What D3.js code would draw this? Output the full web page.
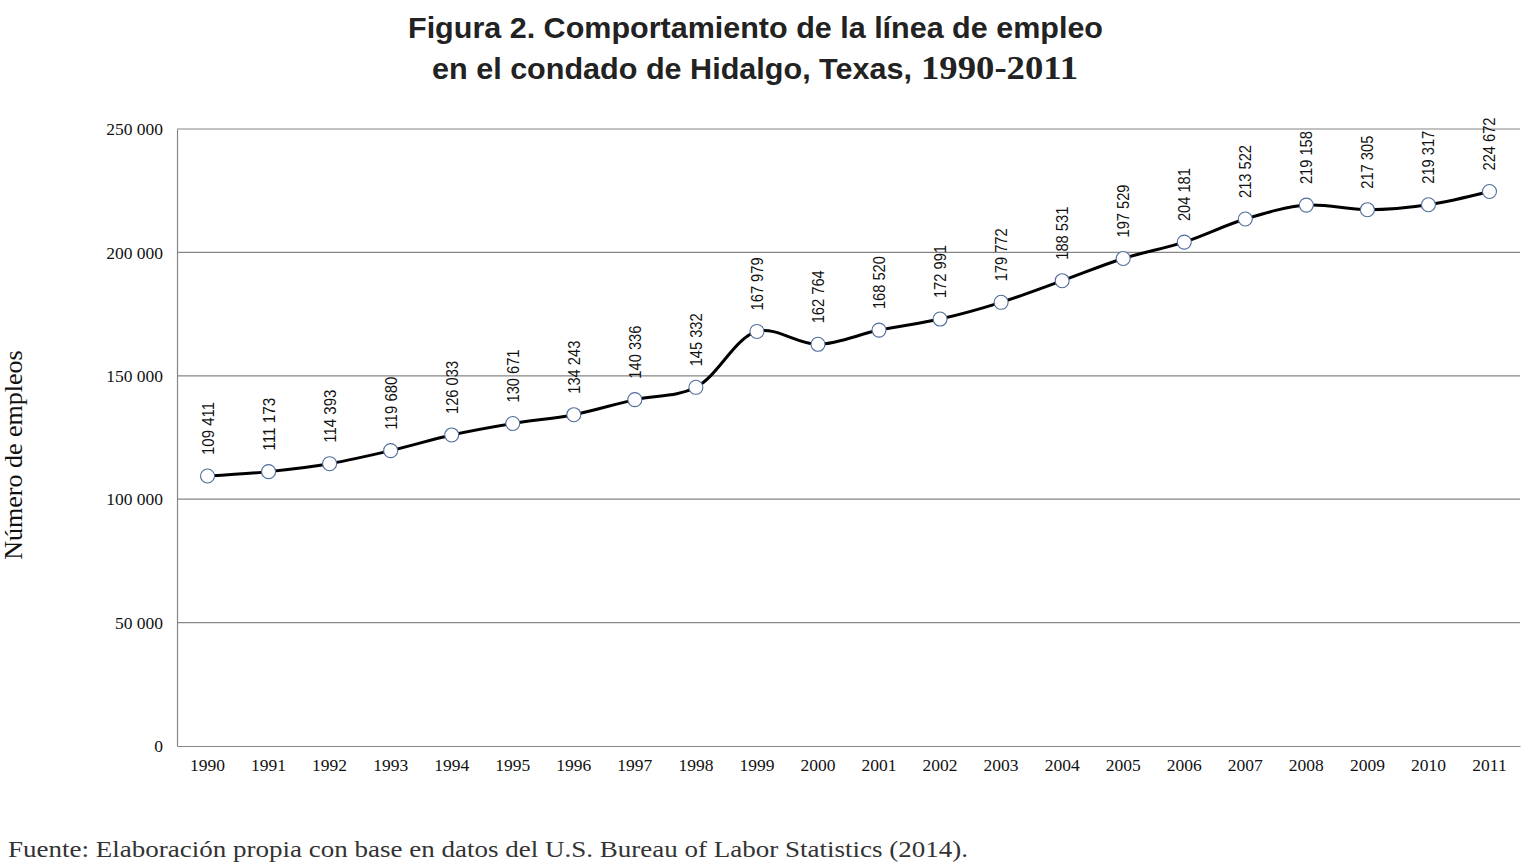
<!DOCTYPE html>
<html>
<head>
<meta charset="utf-8">
<script src="https://cdn.jsdelivr.net/npm/d3@7"></script>
<style>
  body { margin: 0; background: #fff; }
  svg { display: block; }
</style>
</head>
<body>
<svg id="chart" width="1525" height="867"></svg>
<script>
// datos
var years = ["1990", "1991", "1992", "1993", "1994", "1995", "1996", "1997", "1998", "1999", "2000",
  "2001", "2002", "2003", "2004", "2005", "2006", "2007", "2008", "2009", "2010", "2011"];
var empleos = [109411, 111173, 114393, 119680, 126033, 130671, 134243, 140336, 145332, 167979, 162764,
  168520, 172991, 179772, 188531, 197529, 204181, 213522, 219158, 217305, 219317, 224672];
var yTicks = [0, 50000, 100000, 150000, 200000, 250000];

var width = 1525, height = 867;
var margin = { left: 177, right: 5, top: 129, bottom: 121 };

var svg = d3.select("#chart");

var x = d3.scaleBand()
  .domain(years)
  .range([margin.left, width - margin.right]);

var y = d3.scaleLinear()
  .domain([0, 250000])
  .range([height - margin.bottom, margin.top]);

var fmt = function (v) {
  return d3.format(",")(v).replace(/,/g, " ");
};

// title
var title = svg.append("g")
  .attr("font-family", "Liberation Sans, Arial, sans-serif")
  .attr("font-weight", "bold")
  .attr("fill", "#222");
title.append("text")
  .attr("x", 408).attr("y", 38)
  .attr("font-size", 30)
  .attr("textLength", 695)
  .attr("lengthAdjust", "spacingAndGlyphs")
  .text("Figura 2. Comportamiento de la línea de empleo");
title.append("text")
  .attr("x", 432).attr("y", 79)
  .attr("font-size", 30)
  .attr("textLength", 480)
  .attr("lengthAdjust", "spacingAndGlyphs")
  .text("en el condado de Hidalgo, Texas,");
title.append("text")
  .attr("x", 921).attr("y", 79)
  .attr("font-family", "Liberation Serif, Times New Roman, serif")
  .attr("font-size", 33)
  .attr("textLength", 157)
  .attr("lengthAdjust", "spacingAndGlyphs")
  .text("1990-2011");

// gridlines
svg.append("g")
  .selectAll("line")
  .data(yTicks.slice(1))
  .enter()
  .append("line")
  .attr("x1", margin.left)
  .attr("x2", width - margin.right)
  .attr("y1", function (d) { return y(d); })
  .attr("y2", function (d) { return y(d); })
  .attr("stroke", "#868686")
  .attr("stroke-width", 1.2);

// y axis
var yAxis = svg.append("g")
  .attr("transform", "translate(" + margin.left + ",0)")
  .call(d3.axisLeft(y).tickValues(yTicks).tickFormat(fmt).tickSize(0).tickPadding(14));
yAxis.select(".domain").attr("stroke", "#868686").attr("stroke-width", 1.2);
yAxis.selectAll("text")
  .attr("font-family", "Liberation Serif, Times New Roman, serif")
  .attr("font-size", 17.5)
  .attr("fill", "#111");

// x axis
var xAxis = svg.append("g")
  .attr("transform", "translate(0," + (height - margin.bottom) + ")")
  .call(d3.axisBottom(x).tickSize(0).tickPadding(13));
xAxis.select(".domain").attr("stroke", "#868686").attr("stroke-width", 1.2);
xAxis.selectAll("text")
  .attr("font-family", "Liberation Serif, Times New Roman, serif")
  .attr("font-size", 17.5)
  .attr("fill", "#111");

// axis title
svg.append("text")
  .attr("transform", "translate(22,455) rotate(-90)")
  .attr("text-anchor", "middle")
  .attr("font-family", "Liberation Serif, Times New Roman, serif")
  .attr("font-size", 26)
  .attr("fill", "#111")
  .text("Número de empleos");

// line
var pts = years.map(function (d, i) { return [x(d) + x.bandwidth() / 2, y(empleos[i])]; });
svg.append("path")
  .datum(pts)
  .attr("fill", "none")
  .attr("stroke", "#000")
  .attr("stroke-width", 3)
  .attr("d", d3.line().curve(d3.curveCatmullRom.alpha(0.5)));

// markers
svg.append("g")
  .selectAll("circle")
  .data(pts)
  .enter()
  .append("circle")
  .attr("cx", function (d) { return d[0]; })
  .attr("cy", function (d) { return d[1]; })
  .attr("r", 7)
  .attr("fill", "#fff")
  .attr("stroke", "#4f6d9a")
  .attr("stroke-width", 1.1);

// data labels
svg.append("g")
  .selectAll("text")
  .data(pts)
  .enter()
  .append("text")
  .attr("transform", function (d) {
    return "translate(" + (d[0] + 6) + "," + (d[1] - 21) + ") rotate(-90)";
  })
  .attr("font-family", "Liberation Sans, Arial, sans-serif")
  .attr("font-size", 17)
  .attr("fill", "#111")
  .attr("textLength", 53)
  .attr("lengthAdjust", "spacingAndGlyphs")
  .text(function (d, i) { return fmt(empleos[i]); });

// source
svg.append("text")
  .attr("x", 8)
  .attr("y", 857)
  .attr("font-family", "Liberation Serif, Times New Roman, serif")
  .attr("font-size", 24)
  .attr("fill", "#333")
  .attr("textLength", 960)
  .attr("lengthAdjust", "spacingAndGlyphs")
  .text("Fuente: Elaboración propia con base en datos del U.S. Bureau of Labor Statistics (2014).");
</script>
</body>
</html>
